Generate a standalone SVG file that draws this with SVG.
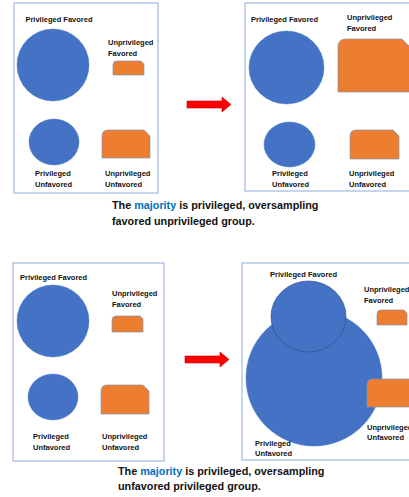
<svg xmlns="http://www.w3.org/2000/svg" width="409" height="497" viewBox="0 0 409 497">
<style>
.box{fill:#fff;stroke:#8FAADC;stroke-width:1}
.c{fill:#4472C4;stroke:#4472C4;stroke-width:0.5}
.co{fill:#4472C4;stroke:#2F528F;stroke-width:0.7}
.o{fill:#ED7D31;stroke:#8497B0;stroke-width:0.7}
.arr{fill:#FF0000;stroke:#C00000;stroke-width:0.6}
.t{font-family:"Liberation Sans",Arial,sans-serif;font-weight:bold;font-size:7.5px;fill:#111}
.cap{font-family:"Liberation Sans",Arial,sans-serif;font-weight:bold;font-size:10.8px;fill:#111}
.blue{fill:#0070C0}
</style>
<rect width="409" height="497" fill="#fff"/>
<g id="panel-top-left">
<rect class="box" x="14" y="3" width="144" height="190"/>
<g id="tl-priv-fav"><circle class="c" cx="53" cy="65" r="36"/><text class="t" x="59" y="22" text-anchor="middle">Privileged Favored</text></g>
<g id="tl-unpriv-fav"><path class="o" d="M113,75 L113,65 Q113,61 117,61 L141,61 L144,64 L144,75 Z"/><text class="t" x="108" y="45">Unprivileged</text><text class="t" x="108" y="56">Favored</text></g>
<g id="tl-priv-unfav"><ellipse class="c" cx="54" cy="142" rx="25" ry="23"/><text class="t" x="35" y="176">Privileged</text><text class="t" x="35" y="187">Unfavored</text></g>
<g id="tl-unpriv-unfav"><path class="o" d="M102,158 L102,136 Q102,130 108,130 L144,130 L150,136 L150,158 Z"/><text class="t" x="105" y="176">Unprivileged</text><text class="t" x="105" y="187">Unfavored</text></g>
</g>
<g id="panel-top-right">
<rect class="box" x="245" y="3" width="170" height="188"/>
<g id="tr-priv-fav"><ellipse class="c" cx="286.5" cy="67.5" rx="37.5" ry="36.5"/><text class="t" x="251" y="22">Privileged Favored</text></g>
<g id="tr-unpriv-fav"><path class="o" d="M338,92 L338,47 Q338,39 346,39 L402,39 L410,47 L410,92 Z"/><text class="t" x="347" y="20">Unprivileged</text><text class="t" x="347" y="31">Favored</text></g>
<g id="tr-priv-unfav"><ellipse class="c" cx="289.5" cy="144.5" rx="25.5" ry="22.5"/><text class="t" x="272" y="176">Privileged</text><text class="t" x="272" y="187">Unfavored</text></g>
<g id="tr-unpriv-unfav"><path class="o" d="M350,159 L350,136 Q350,130 356,130 L393,130 L399,136 L399,159 Z"/><text class="t" x="349" y="176">Unprivileged</text><text class="t" x="349" y="187">Unfavored</text></g>
</g>
<g id="panel-bottom-left">
<rect class="box" x="13" y="263" width="151" height="198"/>
<g id="bl-priv-fav"><circle class="c" cx="53" cy="321" r="36"/><text class="t" x="20" y="280">Privileged Favored</text></g>
<g id="bl-unpriv-fav"><path class="o" d="M112,332 L112,320 Q112,316 116,316 L140,316 L143,319 L143,332 Z"/><text class="t" x="112" y="296">Unprivileged</text><text class="t" x="112" y="307">Favored</text></g>
<g id="bl-priv-unfav"><ellipse class="c" cx="53" cy="397" rx="25" ry="23"/><text class="t" x="33" y="439">Privileged</text><text class="t" x="33" y="450">Unfavored</text></g>
<g id="bl-unpriv-unfav"><path class="o" d="M101,414 L101,391 Q101,385 107,385 L143,385 L149,391 L149,414 Z"/><text class="t" x="102" y="439">Unprivileged</text><text class="t" x="102" y="450">Unfavored</text></g>
</g>
<g id="panel-bottom-right">
<rect class="box" x="242" y="263" width="175" height="197"/>
<g id="br-priv-unfav"><circle class="c" cx="314" cy="378" r="68"/><text class="t" x="255" y="446">Privileged</text><text class="t" x="255" y="456">Unfavored</text></g>
<g id="br-priv-fav"><ellipse class="co" cx="308.5" cy="316.5" rx="37.5" ry="35.5"/><text class="t" x="270" y="277">Privileged Favored</text></g>
<g id="br-unpriv-fav"><path class="o" d="M377,325 L377,314 Q377,310 381,310 L404,310 L407,313 L407,325 Z"/><text class="t" x="364" y="292">Unprivileged</text><text class="t" x="364" y="303">Favored</text></g>
<g id="br-unpriv-unfav"><path class="o" d="M367,407 L367,385 Q367,379 373,379 L411,379 L417,385 L417,407 Z"/><text class="t" x="367" y="430">Unprivileged</text><text class="t" x="367" y="440">Unfavored</text></g>
</g>
<g id="connectors">
<polygon class="arr" points="187,101 222,101 222,97 231,104.5 222,112 222,108 187,108"/>
<polygon class="arr" points="185,356 220,356 220,352 229,359.5 220,367 220,363 185,363"/>
</g>
<g id="captions">
<text class="cap" x="112" y="209">The <tspan class="blue">majority</tspan> is privileged, oversampling</text>
<text class="cap" x="112" y="225">favored unprivileged group.</text>
<text class="cap" x="118" y="475">The <tspan class="blue">majority</tspan> is privileged, oversampling</text>
<text class="cap" x="118" y="490">unfavored privileged group.</text>
</g>
</svg>
